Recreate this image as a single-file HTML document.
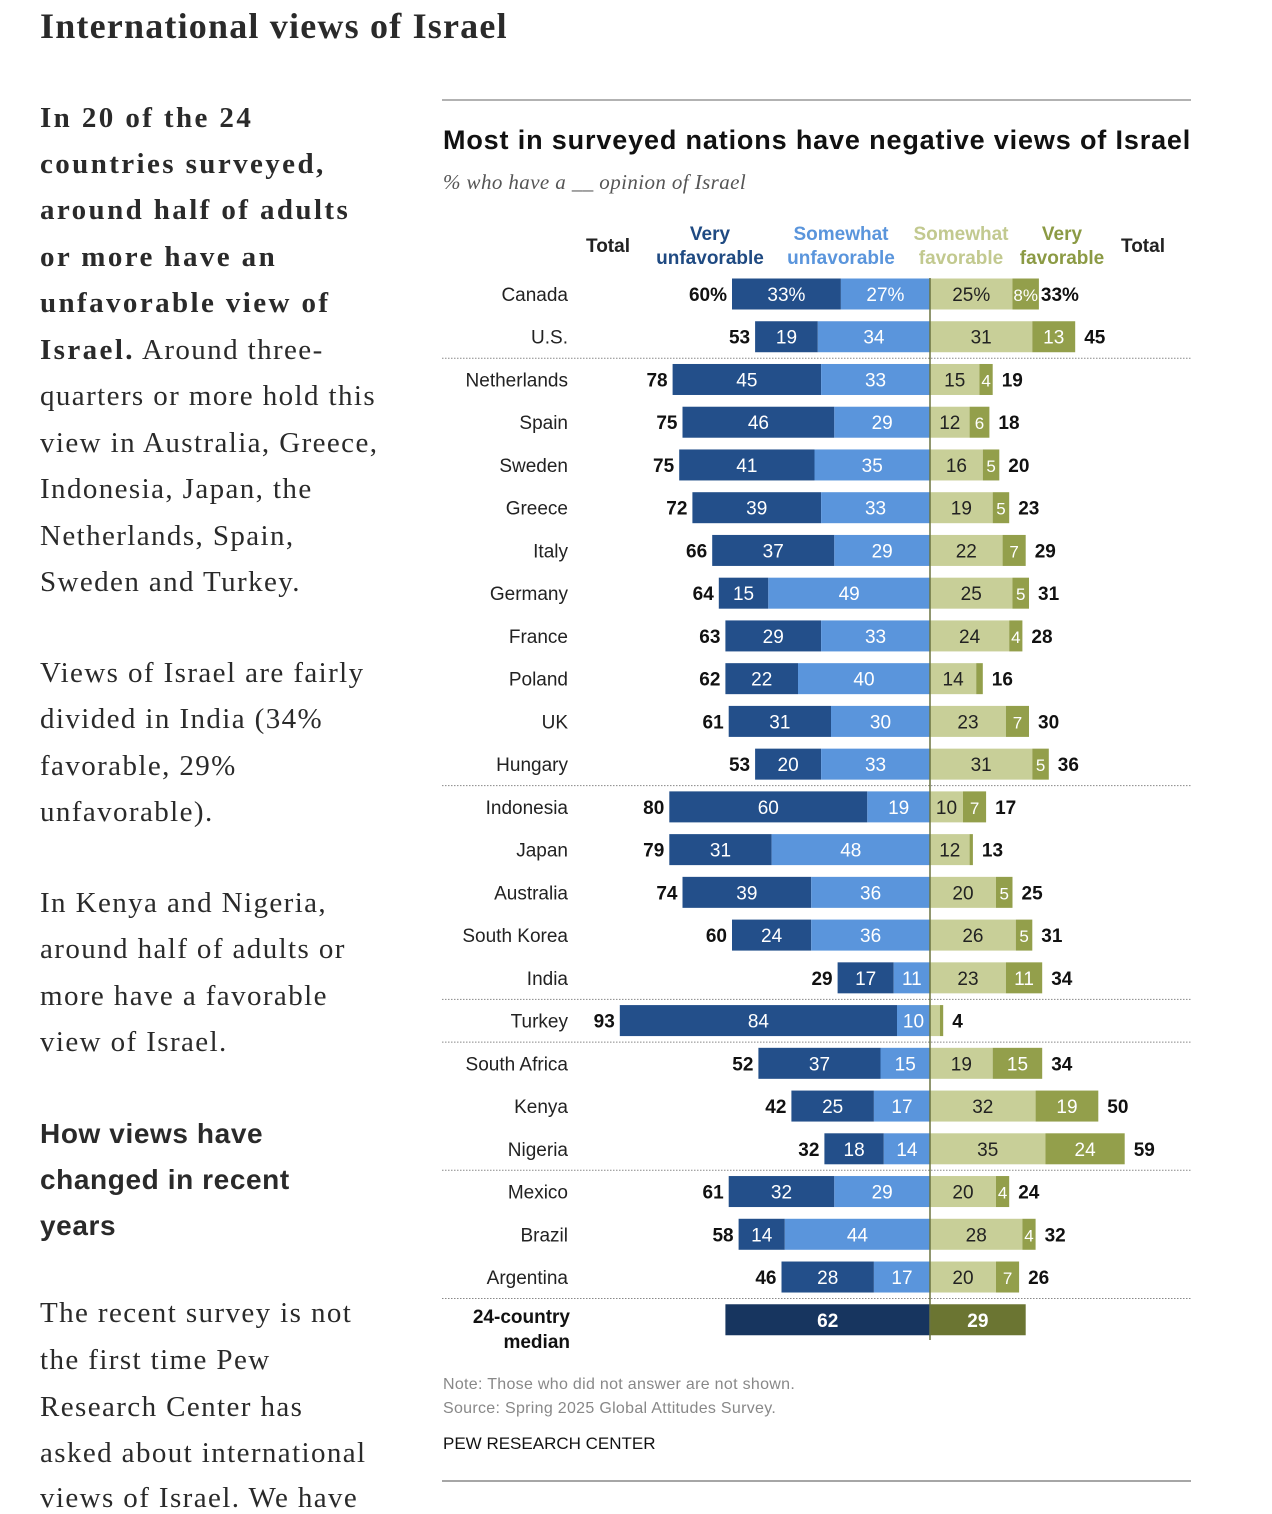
<!DOCTYPE html>
<html><head><meta charset="utf-8">
<style>
html,body{margin:0;padding:0;background:#fff;}
body{width:1272px;height:1510px;position:relative;overflow:hidden;font-family:"Liberation Serif",serif;color:#2a2a2a;}
.t{position:absolute;left:40px;white-space:nowrap;font-size:29px;line-height:1;letter-spacing:1.4px;}
.b{font-weight:bold;letter-spacing:2.4px;}
.h{font-family:"Liberation Sans",sans-serif;font-weight:bold;font-size:28px;letter-spacing:0.6px;}
svg{position:absolute;left:0;top:0;}
</style></head><body>
<div class="t" style="top:8px;font-size:36px;font-weight:bold;letter-spacing:1.2px;">International views of Israel</div>
<div>
<div class="t b" style="top:104px">In 20 of the 24</div>
<div class="t b" style="top:150px">countries surveyed,</div>
<div class="t b" style="top:196px">around half of adults</div>
<div class="t b" style="top:243px">or more have an</div>
<div class="t b" style="top:289px">unfavorable view of</div>
<div class="t" style="top:336px"><b style="letter-spacing:2.4px">Israel.</b> Around three-</div>
<div class="t" style="top:382px">quarters or more hold this</div>
<div class="t" style="top:429px">view in Australia, Greece,</div>
<div class="t" style="top:475px">Indonesia, Japan, the</div>
<div class="t" style="top:522px">Netherlands, Spain,</div>
<div class="t" style="top:568px">Sweden and Turkey.</div>
<div class="t" style="top:659px">Views of Israel are fairly</div>
<div class="t" style="top:705px">divided in India (34%</div>
<div class="t" style="top:752px">favorable, 29%</div>
<div class="t" style="top:798px">unfavorable).</div>
<div class="t" style="top:889px">In Kenya and Nigeria,</div>
<div class="t" style="top:935px">around half of adults or</div>
<div class="t" style="top:982px">more have a favorable</div>
<div class="t" style="top:1028px">view of Israel.</div>
<div class="t h" style="top:1120px">How views have</div>
<div class="t h" style="top:1166px">changed in recent</div>
<div class="t h" style="top:1212px">years</div>
<div class="t" style="top:1299px">The recent survey is not</div>
<div class="t" style="top:1346px">the first time Pew</div>
<div class="t" style="top:1393px">Research Center has</div>
<div class="t" style="top:1439px">asked about international</div>
<div class="t" style="top:1484px">views of Israel. We have</div>
</div>
<svg id="chart" width="1272" height="1510" font-family="Liberation Sans, sans-serif"></svg>
<script>
const countries=["Canada","U.S.","Netherlands","Spain","Sweden","Greece","Italy","Germany","France","Poland","UK","Hungary","Indonesia","Japan","Australia","South Korea","India","Turkey","South Africa","Kenya","Nigeria","Mexico","Brazil","Argentina"];
const veryUnfav=[33,19,45,46,41,39,37,15,29,22,31,20,60,31,39,24,17,84,37,25,18,32,14,28];
const somewhatUnfav=[27,34,33,29,35,33,29,49,33,40,30,33,19,48,36,36,11,10,15,17,14,29,44,17];
const somewhatFav=[25,31,15,12,16,19,22,25,24,14,23,31,10,12,20,26,23,3,19,32,35,20,28,20];
const veryFav=[8,13,4,6,5,5,7,5,4,2,7,5,7,1,5,5,11,1,15,19,24,4,4,7];
const totalUnfav=[60,53,78,75,75,72,66,64,63,62,61,53,80,79,74,60,29,93,52,42,32,61,58,46];
const totalFav=[33,45,19,18,20,23,29,31,28,16,30,36,17,13,25,31,34,4,34,50,59,24,32,26];
const medianValues=[62,29];
const separatorsAfter=[1,11,16,17,20,23];

const NS="http://www.w3.org/2000/svg";
const svg=document.getElementById('chart');
const CX=930,K=3.3,Y0=294,STEP=42.74,BH=31;
const x=v=>v*K;
const rowY=i=>Y0+i*STEP;
function el(tag,attrs,txt){const e=document.createElementNS(NS,tag);for(const k in attrs)e.setAttribute(k,attrs[k]);if(txt!==undefined)e.textContent=txt;svg.appendChild(e);return e;}

let e;
e=el('line',{x1:442,y1:100,x2:1191,y2:100,stroke:'#999','stroke-width':1.5});


e=el('text',{x:443,y:149,'font-size':27,'font-weight':'bold',fill:'#111','letter-spacing':0.85},'Most in surveyed nations have negative views of Israel');


e=el('text',{x:443,y:189,'font-size':21,'font-style':'italic','font-family':'Liberation Serif, serif',fill:'#555','letter-spacing':0.4},'% who have a __ opinion of Israel');



const hdr=[[608,['Total'],'#222',252],[710,['Very','unfavorable'],'#1f4a82',240],[841,['Somewhat','unfavorable'],'#5a95dc',240],[961,['Somewhat','favorable'],'#c2c98f',240],[1062,['Very','favorable'],'#8b9a44',240],[1143,['Total'],'#222',252]];
hdr.forEach(h=>{h[1].forEach((s,j)=>{const t=el('text',{x:h[0],y:(h[1].length==1?h[3]:h[3]+j*24),'font-size':19,'font-weight':'bold','text-anchor':'middle',fill:h[2]},s);

});});

separatorsAfter.forEach(i=>{const yy=rowY(i)+21.5;const l=el('line',{x1:442,y1:yy,x2:1191,y2:yy,stroke:'#888','stroke-width':1,'stroke-dasharray':'1.5,1.5'});

});

const colors=['#234f8a','#5a95dc','#c8cf98','#939f4b'];
const txtCol=['#fff','#fff','#222','#fff'];
countries.forEach((c,i)=>{
  const y=rowY(i);
  const pct=i===0?'%':'';
  let t=el('text',{x:568,y:y+7,'font-size':19,'text-anchor':'end',fill:'#222'},c);
  
  
  const segs=[[CX-x(veryUnfav[i]+somewhatUnfav[i]),veryUnfav[i]],[CX-x(somewhatUnfav[i]),somewhatUnfav[i]],[CX,somewhatFav[i]],[CX+x(somewhatFav[i]),veryFav[i]]];
  const names=['bar-very-unfavorable','bar-somewhat-unfavorable','bar-somewhat-favorable','bar-very-favorable'];
  segs.forEach((s,k)=>{
    const r=el('rect',{x:s[0],y:y-BH/2,width:x(s[1]),height:BH,fill:colors[k]});
    
    
    if(s[1]>=4){const lt=el('text',{x:s[0]+x(s[1])/2,y:y+7,'font-size':s[1]<10?17:19,'text-anchor':'middle',fill:txtCol[k]},s[1]+pct);
      
      }
  });
  const left=CX-x(veryUnfav[i]+somewhatUnfav[i]);
  t=el('text',{x:left-5,y:y+7,'font-size':19,'font-weight':'bold','text-anchor':'end',fill:'#111'},totalUnfav[i]+pct);
  
  
  const right=CX+x(somewhatFav[i]+veryFav[i]);
  t=el('text',{x:right+(i===0?2:9),y:y+7,'font-size':19,'font-weight':'bold',fill:'#111'},totalFav[i]+pct);
  
  
});
const my=rowY(24);
let r=el('rect',{x:CX-x(medianValues[0]),y:my-BH/2,width:x(medianValues[0]),height:BH,fill:'#17355f'});


r=el('rect',{x:CX,y:my-BH/2,width:x(medianValues[1]),height:BH,fill:'#6b7532'});


let mt=el('text',{x:CX-x(medianValues[0])/2,y:my+7,'font-size':19,'font-weight':'bold','text-anchor':'middle',fill:'#fff'},medianValues[0]);


mt=el('text',{x:CX+x(medianValues[1])/2,y:my+7,'font-size':19,'font-weight':'bold','text-anchor':'middle',fill:'#fff'},medianValues[1]);


mt=el('text',{x:570,y:my+3,'font-size':19,'font-weight':'bold','text-anchor':'end',fill:'#111'},'24-country');


mt=el('text',{x:570,y:my+28,'font-size':19,'font-weight':'bold','text-anchor':'end',fill:'#111'},'median');



const cl=el('line',{x1:CX,y1:278,x2:CX,y2:1340,stroke:'#6b7440','stroke-width':1.5});



let n=el('text',{x:443,y:1389,'font-size':16,fill:'#888','letter-spacing':0.3},'Note: Those who did not answer are not shown.');


n=el('text',{x:443,y:1413,'font-size':16,fill:'#888','letter-spacing':0.3},'Source: Spring 2025 Global Attitudes Survey.');


n=el('text',{x:443,y:1449,'font-size':17,fill:'#111'},'PEW RESEARCH CENTER');


n=el('line',{x1:442,y1:1481,x2:1191,y2:1481,stroke:'#888','stroke-width':1.5});


</script>
</body></html>
